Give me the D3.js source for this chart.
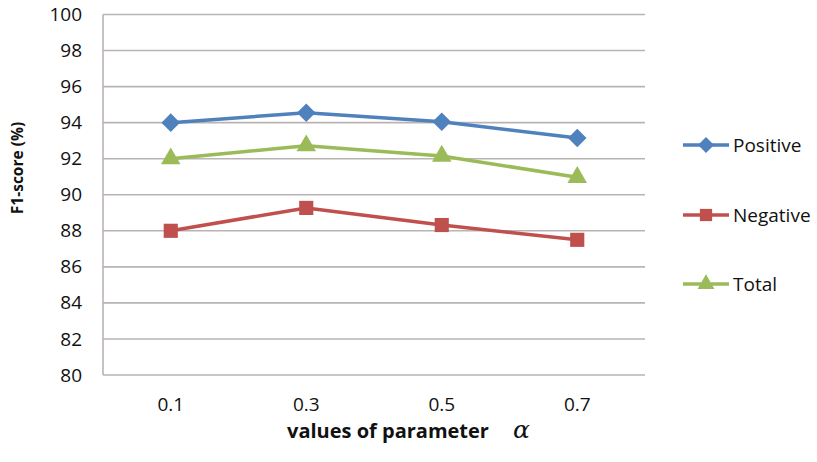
<!DOCTYPE html>
<html>
<head>
<meta charset="utf-8">
<script src="https://cdn.jsdelivr.net/npm/d3@7"></script>
<style>
  html, body { margin: 0; padding: 0; background: #ffffff; }
  svg { display: block; font-family: "Open Sans", "Noto Sans", sans-serif; }
</style>
</head>
<body>
<svg id="chart" width="817" height="462"></svg>
<script>
const categories = ["0.1", "0.3", "0.5", "0.7"];
const positive = [94.0, 94.55, 94.05, 93.15];
const negative = [88.0, 89.27, 88.32, 87.5];
const total = [92.0, 92.72, 92.15, 90.97];
const seriesNames = ["Positive", "Negative", "Total"];
const yTicks = [80, 82, 84, 86, 88, 90, 92, 94, 96, 98, 100];

const colors = { Positive: "#4f81bd", Negative: "#c0504d", Total: "#9bbb59" };
const shapes = { Positive: d3.symbolDiamond2, Negative: d3.symbolSquare, Total: d3.symbolTriangle };
const sizes = { Positive: 220, Negative: 200, Total: 165 };

const series = [
  { name: "Positive", values: positive },
  { name: "Negative", values: negative },
  { name: "Total", values: total }
];

const svg = d3.select("#chart");
const plot = { left: 103, right: 645, top: 14.5, bottom: 375 };

const x = d3.scaleBand().domain(categories).range([plot.left, plot.right]);
const y = d3.scaleLinear().domain([80, 100]).range([plot.bottom, plot.top]);

// gridlines
svg.append("g").selectAll("line").data(yTicks).join("line")
  .attr("x1", plot.left).attr("x2", plot.right)
  .attr("y1", d => y(d)).attr("y2", d => y(d))
  .attr("stroke", "#bab3b3").attr("stroke-width", 1.6);

// left axis line
svg.append("line")
  .attr("x1", plot.left).attr("x2", plot.left)
  .attr("y1", plot.top).attr("y2", plot.bottom)
  .attr("stroke", "#bab3b3").attr("stroke-width", 1.6);

// y tick labels
const yAxis = d3.axisLeft(y).tickValues(yTicks).tickSize(0).tickPadding(21);
const gy = svg.append("g").attr("transform", `translate(${plot.left},0)`).call(yAxis);
gy.select(".domain").remove();
gy.selectAll("text").attr("font-size", 19).attr("fill", "#111")
  .attr("font-family", "'Open Sans', sans-serif");

// x tick labels
const xAxis = d3.axisBottom(x).tickSize(0).tickPadding(23);
const gx = svg.append("g").attr("transform", `translate(0,${plot.bottom})`).call(xAxis);
gx.select(".domain").remove();
gx.selectAll("text").attr("font-size", 19).attr("fill", "#111")
  .attr("font-family", "'Open Sans', sans-serif");

// lines
const line = d3.line()
  .x((d, i) => x(categories[i]) + x.bandwidth() / 2)
  .y(d => y(d));

series.forEach(s => {
  svg.append("path").datum(s.values)
    .attr("d", line)
    .attr("fill", "none")
    .attr("stroke", colors[s.name])
    .attr("stroke-width", 3.5)
    .attr("stroke-linejoin", "round");
});

series.forEach(s => {
  svg.append("g").selectAll("path").data(s.values).join("path")
    .attr("transform", (d, i) => `translate(${x(categories[i]) + x.bandwidth() / 2},${y(d)})`)
    .attr("d", d3.symbol().type(shapes[s.name]).size(sizes[s.name]))
    .attr("fill", colors[s.name]);
});

// legend
const legendY = { Positive: 145, Negative: 215, Total: 284 };
seriesNames.forEach(n => {
  const g = svg.append("g").attr("transform", `translate(683,${legendY[n]})`);
  g.append("line").attr("x1", 0).attr("x2", 46).attr("y1", 0).attr("y2", 0)
    .attr("stroke", colors[n]).attr("stroke-width", 3.5);
  g.append("path").attr("transform", "translate(23,0)")
    .attr("d", d3.symbol().type(shapes[n]).size(sizes[n] * 0.75))
    .attr("fill", colors[n]);
  g.append("text").attr("x", 50).attr("y", 0).attr("dy", "0.35em")
    .attr("font-size", 19).attr("fill", "#111").text(n);
});

// y axis title
svg.append("text")
  .attr("transform", "translate(23,168) rotate(-90)")
  .attr("text-anchor", "middle")
  .attr("font-size", 15.5).attr("font-weight", "bold").attr("fill", "#111")
  .text("F1-score (%)");

// x axis title
const xt = svg.append("text")
  .attr("x", 287).attr("y", 438)
  .attr("font-size", 20).attr("font-weight", "bold").attr("fill", "#111");
xt.append("tspan").text("values of parameter");
xt.append("tspan").attr("dx", 24).attr("font-style", "italic").attr("font-weight", "normal")
  .attr("font-size", 25)
  .attr("font-family", "'DejaVu Serif', serif").text("α");
</script>
</body>
</html>
